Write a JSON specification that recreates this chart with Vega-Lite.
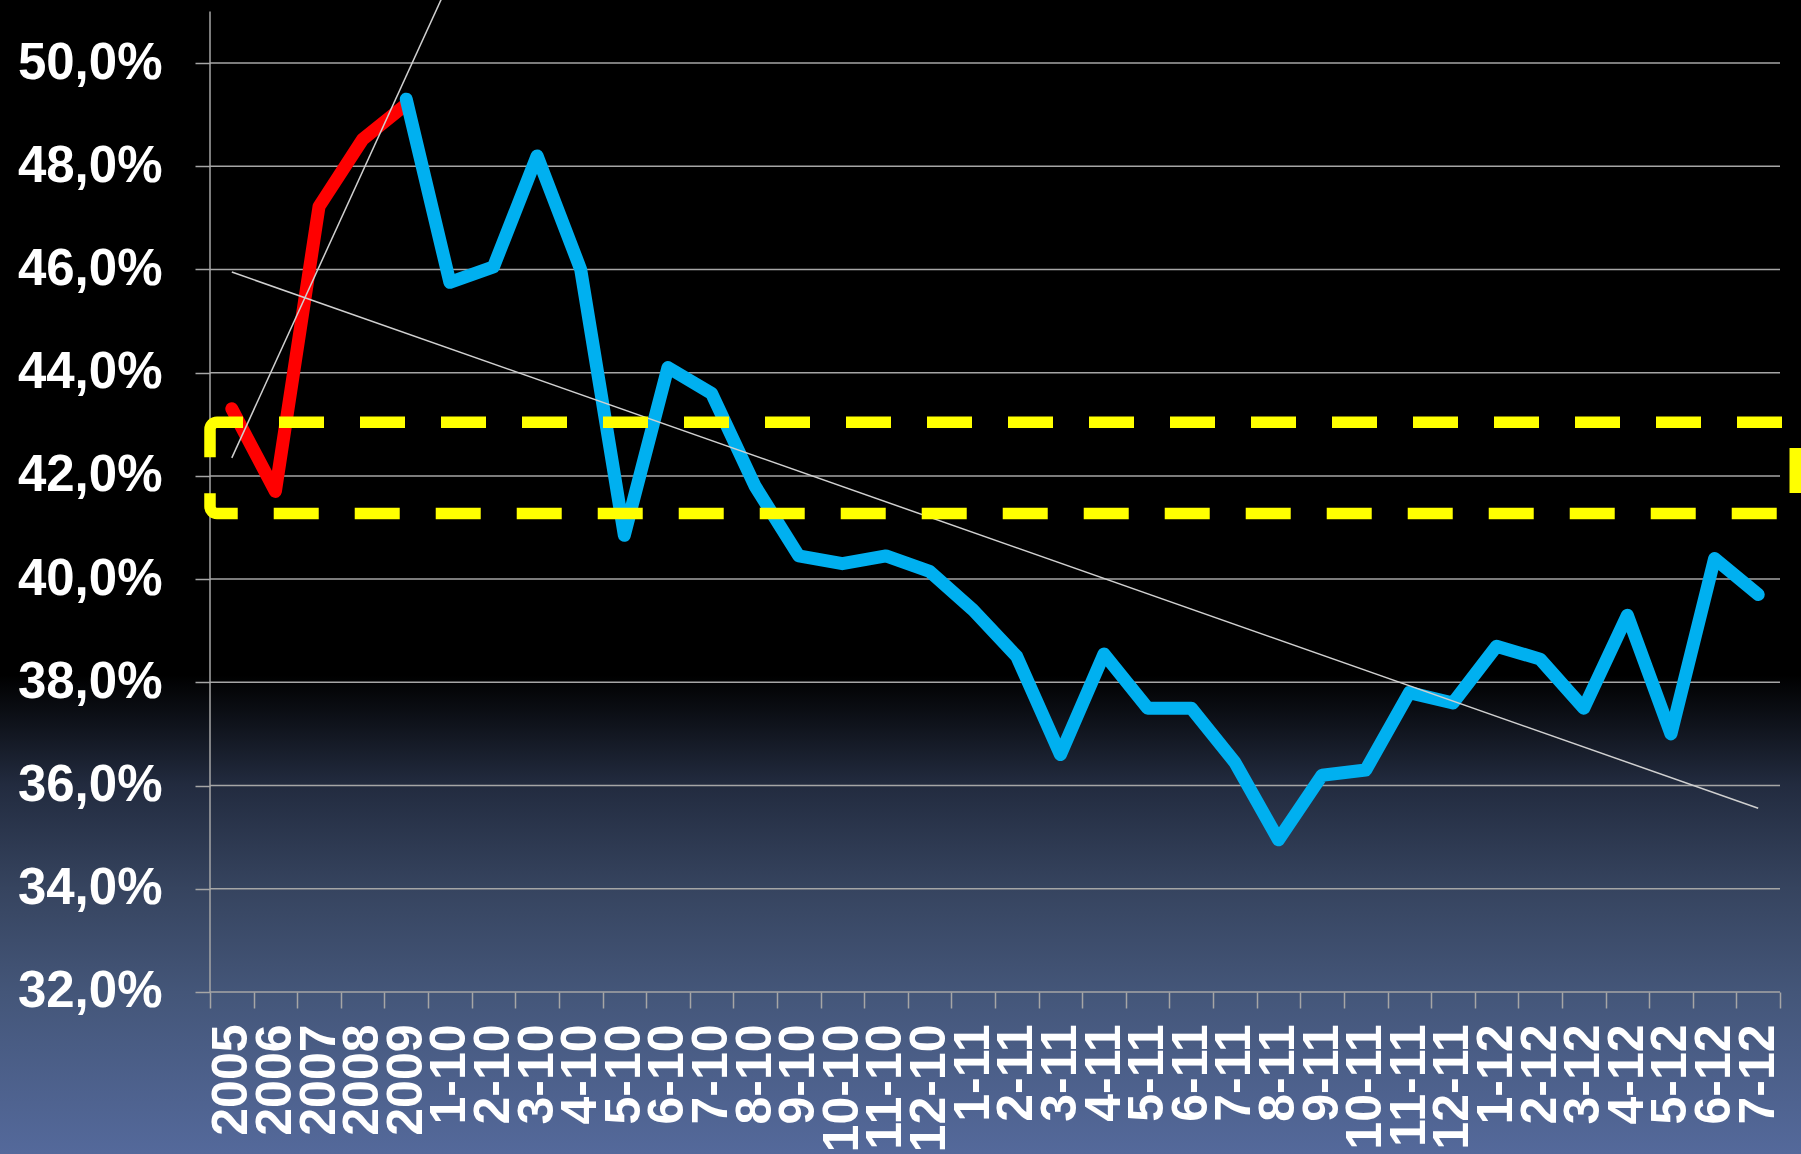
{
  "$schema": "https://vega.github.io/schema/vega-lite/v6.json",
  "width": 1801,
  "height": 1154,
  "autosize": {"type": "none"},
  "padding": 0,
  "background": "#000000",
  "config": {
    "font": "Liberation Sans",
    "view": {
      "stroke": null,
      "fill": {
        "gradient": "linear", "x1": 0, "y1": 0, "x2": 0, "y2": 1,
        "stops": [
          {"offset": 0, "color": "#000000"},
          {"offset": 0.585, "color": "#000000"},
          {"offset": 0.63, "color": "#10141d"},
          {"offset": 0.68, "color": "#222b3f"},
          {"offset": 0.77, "color": "#36445f"},
          {"offset": 0.86, "color": "#445679"},
          {"offset": 1, "color": "#54699b"}
        ]
      }
    }
  },
  "datasets": {
    "grid": [
      {"value": 32}, {"value": 34}, {"value": 36}, {"value": 38}, {"value": 40},
      {"value": 42}, {"value": 44}, {"value": 46}, {"value": 48}, {"value": 50}
    ],
    "axisline": [{"bottom": 32, "top": 51.0}],
    "early": [
      {"period": "2005", "value": 43.3},
      {"period": "2006", "value": 41.7},
      {"period": "2007", "value": 47.22},
      {"period": "2008", "value": 48.52},
      {"period": "2009", "value": 49.2}
    ],
    "monthly": [
      {"period": "2009", "value": 49.3},
      {"period": "1-10", "value": 45.75},
      {"period": "2-10", "value": 46.05},
      {"period": "3-10", "value": 48.2},
      {"period": "4-10", "value": 46.0},
      {"period": "5-10", "value": 40.85},
      {"period": "6-10", "value": 44.1},
      {"period": "7-10", "value": 43.6},
      {"period": "8-10", "value": 41.8},
      {"period": "9-10", "value": 40.45},
      {"period": "10-10", "value": 40.3},
      {"period": "11-10", "value": 40.45},
      {"period": "12-10", "value": 40.15},
      {"period": "1-11", "value": 39.4},
      {"period": "2-11", "value": 38.5},
      {"period": "3-11", "value": 36.6},
      {"period": "4-11", "value": 38.55},
      {"period": "5-11", "value": 37.5},
      {"period": "6-11", "value": 37.5},
      {"period": "7-11", "value": 36.45},
      {"period": "8-11", "value": 34.95},
      {"period": "9-11", "value": 36.2},
      {"period": "10-11", "value": 36.3},
      {"period": "11-11", "value": 37.8},
      {"period": "12-11", "value": 37.6},
      {"period": "1-12", "value": 38.7},
      {"period": "2-12", "value": 38.45},
      {"period": "3-12", "value": 37.5},
      {"period": "4-12", "value": 39.3},
      {"period": "5-12", "value": 37.0},
      {"period": "6-12", "value": 40.4},
      {"period": "7-12", "value": 39.7}
    ],
    "trend": [
      {"trend": "Trend 2005-2009", "period": "2005", "value": 42.35},
      {"trend": "Trend 2005-2009", "period": "1-10", "value": 51.6},
      {"trend": "Trend gesamt", "period": "2005", "value": 45.95},
      {"trend": "Trend gesamt", "period": "7-12", "value": 35.56}
    ],
    "box": [{"upper": 43.04, "lower": 41.27}]
  },
  "layer": [
    {
      "data": {"name": "grid"},
      "mark": {"type": "rule", "color": "#a6a6a6", "strokeWidth": 1.5},
      "encoding": {
        "y": {
          "field": "value", "type": "quantitative",
          "scale": {"domain": [28.861, 51.221], "nice": false, "zero": false},
          "axis": {
            "title": null,
            "orient": "left",
            "offset": -210,
            "values": [32, 34, 36, 38, 40, 42, 44, 46, 48, 50],
            "domain": false,
            "grid": false,
            "ticks": true,
            "tickSize": 15,
            "tickWidth": 1.5,
            "tickColor": "#a6a6a6",
            "labelColor": "#ffffff",
            "labelFontSize": 51,
            "labelFontWeight": "bold",
            "labelPadding": 33,
            "labelExpr": "replace(format(datum.value, '.1f'), '.', ',') + '%'"
          }
        },
        "x": {"datum": "2005", "type": "ordinal", "bandPosition": 0, "axis": {"title": null}},
        "x2": {"datum": "7-12", "bandPosition": 1}
      }
    },
    {
      "data": {"name": "axisline"},
      "mark": {"type": "rule", "color": "#a6a6a6", "strokeWidth": 1.5},
      "encoding": {
        "x": {"datum": "2005", "type": "ordinal", "bandPosition": 0, "axis": {"title": null}},
        "y": {"field": "bottom", "type": "quantitative", "axis": {"title": null}},
        "y2": {"field": "top"}
      }
    },
    {
      "data": {"name": "early"},
      "mark": {"type": "line", "color": "#ff0000", "strokeWidth": 13, "strokeCap": "round", "strokeJoin": "round"},
      "encoding": {
        "x": {
          "field": "period", "type": "ordinal", "bandPosition": 0.5,
          "scale": {
            "type": "band",
            "domain": ["2005","2006","2007","2008","2009","1-10","2-10","3-10","4-10","5-10","6-10","7-10","8-10","9-10","10-10","11-10","12-10","1-11","2-11","3-11","4-11","5-11","6-11","7-11","8-11","9-11","10-11","11-11","12-11","1-12","2-12","3-12","4-12","5-12","6-12","7-12"],
            "range": [210, 1780],
            "paddingInner": 0,
            "paddingOuter": 0
          },
          "axis": {
            "title": null,
            "orient": "bottom",
            "offset": -162,
            "domain": false,
            "grid": false,
            "ticks": true,
            "tickBand": "extent",
            "tickSize": 16,
            "tickWidth": 1.5,
            "tickColor": "#a6a6a6",
            "labelAngle": 270,
            "labelColor": "#ffffff",
            "labelFontSize": 50,
            "labelFontWeight": "bold",
            "labelPadding": 16,
            "labelOverlap": false,
            "labelBound": false,
            "labelFlush": false,
            "labelLimit": 0
          }
        },
        "y": {"field": "value", "type": "quantitative", "axis": {"title": null}},
        "order": {"value": null}
      }
    },
    {
      "data": {"name": "monthly"},
      "mark": {"type": "line", "color": "#00b0f0", "strokeWidth": 13, "strokeCap": "round", "strokeJoin": "round"},
      "encoding": {
        "x": {"field": "period", "type": "ordinal", "bandPosition": 0.5, "axis": {"title": null}},
        "y": {"field": "value", "type": "quantitative", "axis": {"title": null}},
        "order": {"value": null}
      }
    },
    {
      "data": {"name": "trend"},
      "mark": {"type": "line", "color": "#d0d0d0", "strokeWidth": 1.5, "clip": true},
      "encoding": {
        "x": {"field": "period", "type": "ordinal", "bandPosition": 0.5, "axis": {"title": null}},
        "y": {"field": "value", "type": "quantitative", "axis": {"title": null}},
        "detail": {"field": "trend"},
        "order": {"value": null}
      }
    },
    {
      "data": {"name": "box"},
      "mark": {"type": "rect", "filled": false, "stroke": "#ffff00", "strokeWidth": 11.5, "strokeDash": [45, 36], "strokeDashOffset": 19, "cornerRadius": 7},
      "encoding": {
        "x": {"datum": "2005", "type": "ordinal", "bandPosition": 0, "axis": {"title": null}},
        "x2": {"datum": "7-12", "bandPosition": 1.35},
        "y": {"field": "upper", "type": "quantitative", "axis": {"title": null}},
        "y2": {"field": "lower"}
      }
    }
  ]
}
